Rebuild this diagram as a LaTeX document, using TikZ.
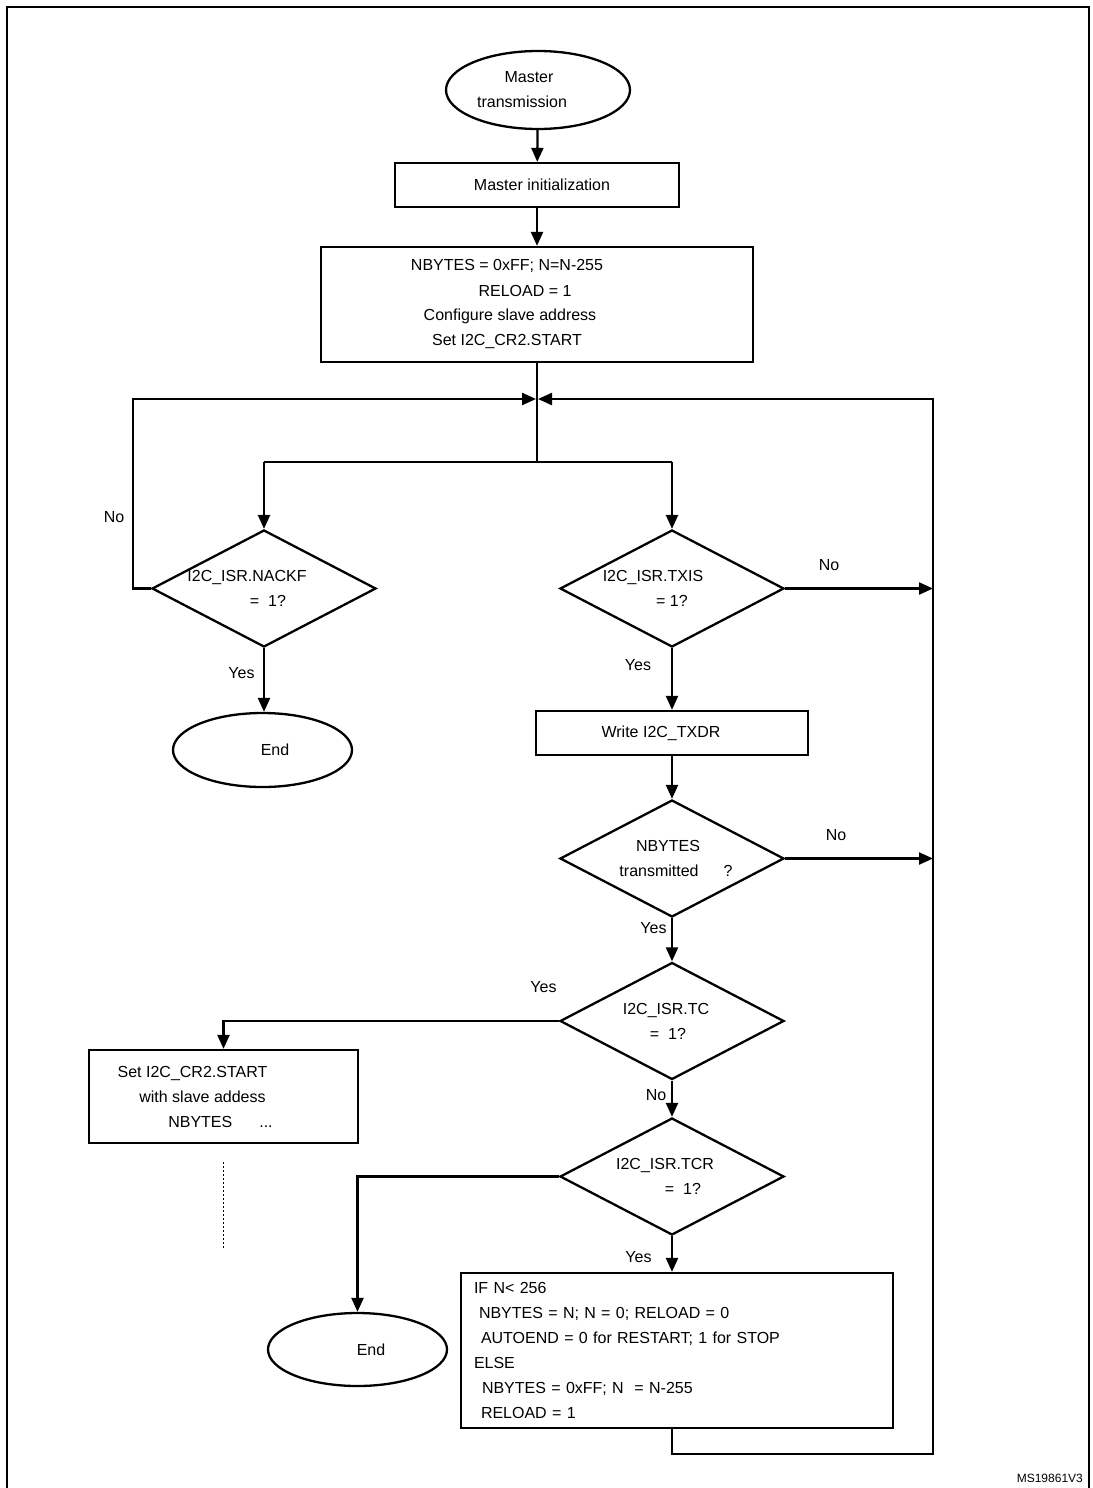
\documentclass[tikz,border=0pt]{standalone}
\usepackage{fontspec}
\setmainfont{Liberation Sans}
\usetikzlibrary{shapes.geometric,arrows.meta}
% one line of text, moved sideways by #1 from the centre of its node
\newcommand{\offl}[2]{\makebox[0pt]{\kern#1\relax#2\kern-#1\relax}}
\begin{document}
\begin{tikzpicture}[x=1pt,y=-1pt,line width=2.3pt,
  font=\fontsize{16}{25}\selectfont,
  >={Triangle[length=14pt,width=12pt]},
  term/.style={draw,ellipse,inner sep=0pt,align=center,minimum width=179pt,minimum height=74pt},
  proc/.style={draw,rectangle,inner sep=0pt,align=center},
  test/.style={draw,diamond,shape aspect=2,inner sep=0pt,align=center,minimum width=224pt,minimum height=117pt},
  lbl/.style={inner sep=0pt}]
\useasboundingbox (0,0) rectangle (1092,1488);
\draw [line width=2.8pt] (7,1488)-- (7,7)-- (1089,7)-- (1089,1488);
% shapes
\node [term,minimum width=184pt,minimum height=78pt] (start) at (538,90) {\offl{-9pt}{Master}\\\offl{-16pt}{transmission}};
\node [proc,minimum width=284pt,minimum height=44pt] (init) at (537,185) {\offl{5pt}{Master initialization}};
\node [proc,minimum width=432pt,minimum height=115pt] (setup) at (537,304.5) {\offl{-30pt}{NBYTES = 0xFF; N=N-255}\\\offl{-12pt}{RELOAD = 1}\\\offl{-27pt}{Configure slave address}\\\offl{-30pt}{Set I2C\_CR2.START}};
\node [test] (nackf) at (264,588.5) {\offl{-17pt}{I2C\_ISR.NACKF}\\\offl{4pt}{=\ \ 1?}};
\node [test] (txis) at (672,588.5) {\offl{-19pt}{I2C\_ISR.TXIS}\\\offl{0pt}{= 1?}};
\node [term] (end1) at (262.5,750) {\offl{12.5pt}{End}};
\node [proc,minimum width=272pt,minimum height=44pt] (write) at (672,733) {\offl{-11pt}{Write I2C\_TXDR}};
\node [test] (nbytes) at (672,858.5) {\offl{-4pt}{NBYTES}\\\offl{4pt}{transmitted\hspace{25pt}?}};
\node [test] (tc) at (672,1021) {\offl{-6pt}{I2C\_ISR.TC}\\\offl{-4pt}{=\ \ 1?}};
\node [proc,minimum width=269pt,minimum height=93pt] (restart) at (223.5,1096.5) {\offl{-31pt}{Set I2C\_CR2.START}\\\offl{-21pt}{with slave addess}\\\offl{-3pt}{NBYTES\hspace{27pt}...}};
\node [test] (tcr) at (672,1176.5) {\offl{-7pt}{I2C\_ISR.TCR}\\\offl{11pt}{=\ \ 1?}};
\node [term,minimum height=73pt] (end2) at (357.5,1349.5) {\offl{13.5pt}{End}};
\node [proc,align=left,text width=406pt,minimum width=432pt,minimum height=155pt] (reload) at (677,1350.5) {IF N< 256\\\hspace*{5pt}NBYTES = N; N = 0; RELOAD = 0\\\hspace*{7pt}AUTOEND = 0 for RESTART; 1 for STOP\\ELSE\\\hspace*{8pt}NBYTES = 0xFF; N\ \ = N-255\\\hspace*{7pt}RELOAD = 1};
% labels
\node [lbl] (noNackf) at (114,517) {No};
\node [lbl] (yesNackf) at (241.5,673) {Yes};
\node [lbl] (noTxis) at (829,565) {No};
\node [lbl] (yesTxis) at (638,665) {Yes};
\node [lbl] (noNbytes) at (836,835) {No};
\node [lbl] (yesNbytes) at (653.5,928) {Yes};
\node [lbl] (yesTc) at (543.5,987) {Yes};
\node [lbl] (noTc) at (656,1095) {No};
\node [lbl] (yesTcr) at (638.5,1257) {Yes};
\node [lbl,anchor=east,font=\fontsize{12}{14}\selectfont] (docid) at (1084,1478) {MS19861V3};
% connectors
\coordinate (join) at (537,399);
\coordinate (split) at (537,462);
\coordinate (busTop) at (933,399);
\coordinate (busBot) at (933,1454);
\coordinate (dotTop) at (223.5,1162);
\coordinate (dotBot) at (223.5,1248);
\draw [->] (start)-- (init);
\draw [->] (init)-- (setup);
\draw (setup)-- (split);
\draw (split -| nackf)-- (split -| txis);
\draw [->] (split -| nackf)-- (nackf);
\draw [->] (split -| txis)-- (txis);
\draw [->,shorten >=1pt] (nackf.west)-- ++(-18,0) |- (join);
\draw [->] (nackf.south)-- (nackf.south |- end1.north);
\draw [->] (txis.east)-- (txis.east -| busTop);
\draw [->] (txis)-- (write);
\draw [->] (write)-- (nbytes);
\draw [->] (nbytes.east)-- (nbytes.east -| busTop);
\draw [->] (nbytes)-- (tc);
\draw [->] (tc.west) -| (restart.north);
\draw [line width=1.8pt,dash pattern=on 2pt off 2pt] (dotTop)-- (dotBot);
\draw [->] (tc)-- (tcr);
\draw [->] (tcr.west) -| (end2.north);
\draw [->] (tcr.south)-- (tcr.south |- reload.north);
\draw [->,shorten >=1pt] (tcr.south |- reload.south) |- (busBot)-- (busTop)-- (join);
\end{tikzpicture}
\end{document}
